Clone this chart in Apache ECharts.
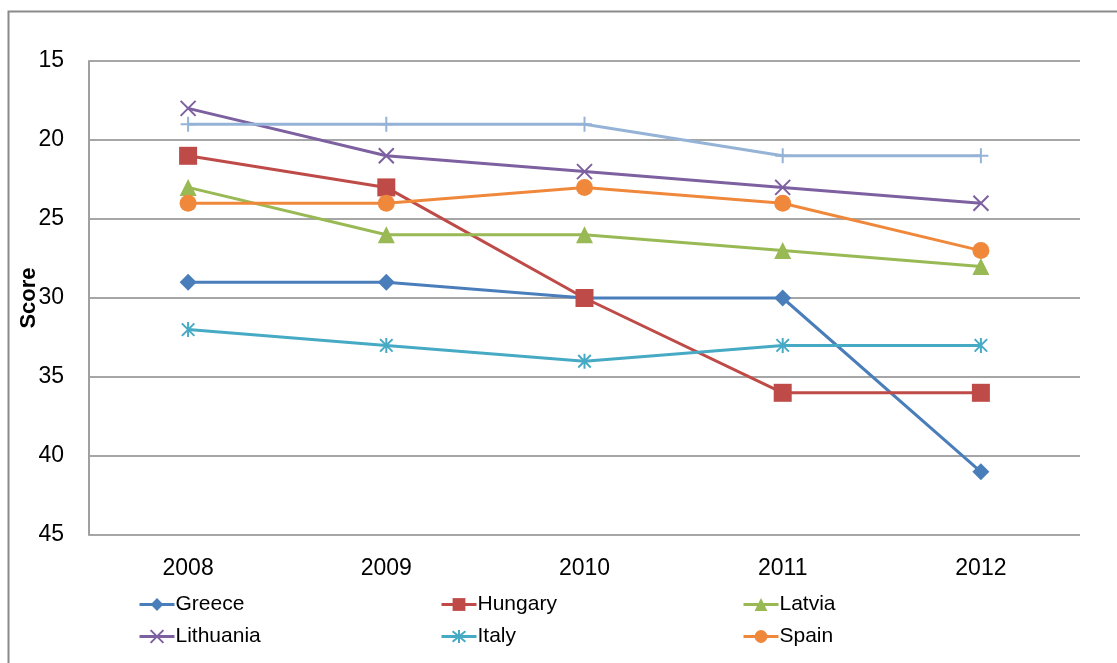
<!DOCTYPE html>
<html>
<head>
<meta charset="utf-8">
<script src="https://cdn.jsdelivr.net/npm/echarts@6/dist/echarts.min.js"></script>
<style>
  html, body { margin: 0; padding: 0; background: #fff; }
  #chart { width: 1117px; height: 663px; }
</style>
</head>
<body>
<div id="chart"></div>
<script>
const years = ['2008', '2009', '2010', '2011', '2012']
const yTicks = [15, 20, 25, 30, 35, 40, 45]

const greece = [29, 29, 30, 30, 41]
const hungary = [21, 23, 30, 36, 36]
const latvia = [23, 26, 26, 27, 28]
const lithuania = [18, 21, 22, 23, 24]
const italy = [32, 33, 34, 33, 33]
const spain = [24, 24, 23, 24, 27]
const unlabelled = [19, 19, 19, 21, 21]

const legendNames = ['Greece', 'Hungary', 'Latvia', 'Lithuania', 'Italy', 'Spain']

const FONT = "'Liberation Sans Narrow', 'Liberation Sans', sans-serif"
const crossPath = 'path://M0,0L10,10M10,0L0,10'
const starPath = 'path://M0,0L10,10M10,0L0,10M5,-1L5,11'
const plusPath = 'path://M5,0L5,10M0,5L10,5'

function line(name, data, color, symbol, size, stroked) {
  return {
    name, type: 'line', data,
    symbol, symbolSize: size, symbolKeepAspect: true,
    lineStyle: { color, width: 3 },
    itemStyle: stroked ? { color, borderColor: color, borderWidth: 2 } : { color },
    emphasis: { disabled: true }
  }
}

// one legend per entry so the three columns line up like the original
const legends = legendNames.map((n, i) => ({
  data: [n], left: 138 + (i % 3) * 302, top: i < 3 ? 594 : 626,
  padding: 0, itemWidth: 35, itemHeight: 16, itemGap: 0,
  lineStyle: { width: 3 },
  textStyle: { fontFamily: FONT, fontSize: 21, color: '#000', padding: [0, 0, 0, -4] }
}))

const chart = echarts.init(document.getElementById('chart'))
chart.setOption({
  animation: false,
  graphic: [{
    type: 'rect', left: 6, top: 9, silent: true,
    shape: { width: 1200, height: 800 },
    style: { fill: 'none', stroke: '#8a8a8a', lineWidth: 2 }
  }],
  legend: legends,
  grid: { left: 89, right: 37, top: 61, bottom: 128, outerBoundsMode: 'none' },
  xAxis: {
    type: 'category', data: years, boundaryGap: true,
    axisLine: { show: false }, axisTick: { show: false },
    axisLabel: { fontFamily: FONT, fontSize: 23, color: '#000', margin: 22 }
  },
  yAxis: {
    type: 'value', inverse: true, min: yTicks[0], max: yTicks[yTicks.length - 1], interval: 5,
    name: 'Score', nameLocation: 'middle', nameGap: 49, nameMoveOverlap: false,
    nameTextStyle: { fontFamily: FONT, fontSize: 22, fontWeight: 'bold', color: '#000' },
    axisLine: { show: true, lineStyle: { color: '#a0a0a0', width: 2 } },
    axisTick: { show: false },
    axisLabel: { fontFamily: FONT, fontSize: 23, color: '#000', margin: 25 },
    splitLine: { lineStyle: { color: '#a6a6a6', width: 2 } }
  },
  series: [
    line('Greece', greece, '#4a7ebb', 'diamond', 17),
    line('Hungary', hungary, '#be4b48', 'rect', 18),
    line('Latvia', latvia, '#98b954', 'triangle', 17),
    line('Lithuania', lithuania, '#7d60a0', crossPath, 15, true),
    line('Italy', italy, '#46aac5', starPath, 15, true),
    line('Spain', spain, '#f0883c', 'circle', 17),
    line('', unlabelled, '#95b3d7', plusPath, 15, true)
  ]
})
</script>
</body>
</html>
